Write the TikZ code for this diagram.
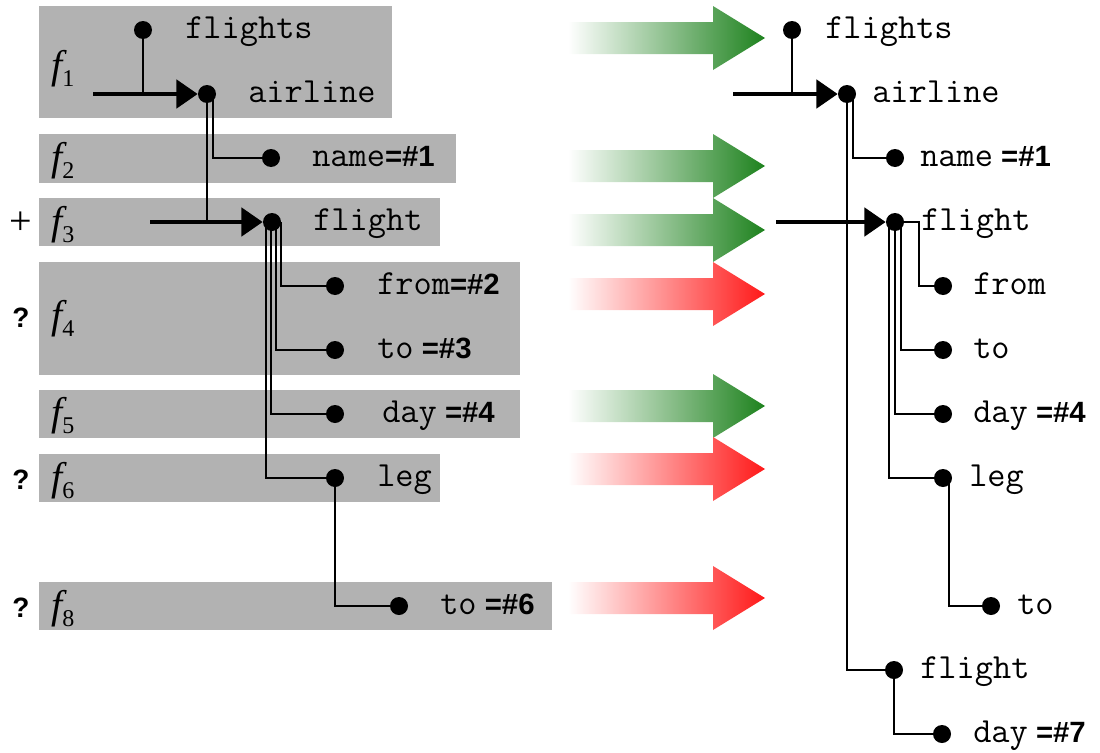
\documentclass[tikz,border=0pt]{standalone}
\usepackage{fontspec}
\setmainfont{Liberation Serif}
\newfontfamily\bsans{Liberation Sans}
\usetikzlibrary{arrows.meta,calc}
\definecolor{bandgray}{RGB}{178,178,178}
\definecolor{gtip}{RGB}{30,130,30}
\definecolor{gmid}{RGB}{178,200,178}
\definecolor{rtip}{RGB}{255,25,25}
\definecolor{rmid}{RGB}{255,195,195}
\newcommand\bpart[1]{{\bsans\bfseries\fontsize{22}{22}\selectfont #1}}
\newcommand\flab[1]{{\fontsize{30}{30}\selectfont\itshape f}\raisebox{-6pt}{\fontsize{18}{18}\selectfont #1}}
\tikzset{
  band/.style={fill=bandgray, draw=none},
  dot/.style={circle, fill=black, inner sep=0pt, minimum size=13.5pt},
  lbl/.style={anchor=base west, inner sep=0pt, font=\ttfamily\fontsize{26.5}{26.5}\selectfont},
  flbl/.style={anchor=base west, inner sep=0pt},
  conn/.style={line width=1.4pt},
  bigarrow/.style={line width=3.6pt, -{Triangle[length=16pt,width=21pt]}},
  garrow/.style={left color=white, middle color=gmid, right color=gtip, draw=none},
  rarrow/.style={left color=white, middle color=rmid, right color=rtip, draw=none},
}
\newcommand\fatarrow[2]{\path[#1] (568,#2-16) -- (713,#2-16) -- (713,#2-32) -- (765,#2) -- (713,#2+32) -- (713,#2+16) -- (568,#2+16) -- cycle;}
\begin{document}
\begin{tikzpicture}[x=0.75pt,y=-0.75pt]
\useasboundingbox (0,0) rectangle (1100,753);
% bands
\fill[band] (39,6) rectangle (392,118);
\fill[band] (39,134) rectangle (456,183);
\fill[band] (39,198) rectangle (440,246);
\fill[band] (39,262) rectangle (520,375);
\fill[band] (39,390) rectangle (520,438);
\fill[band] (39,454) rectangle (440,502);
\fill[band] (39,582) rectangle (552,630);
% f labels
\node[flbl] (f1) at (51,78) {\flab{1}};
\node[flbl] (f2) at (51,170) {\flab{2}};
\node[flbl] (f3) at (51,234) {\flab{3}};
\node[flbl] (f4) at (51,328) {\flab{4}};
\node[flbl] (f5) at (51,425) {\flab{5}};
\node[flbl] (f6) at (51,490) {\flab{6}};
\node[flbl] (f8) at (51,618) {\flab{8}};
% markers
\node (mplus) at (21,223) {\fontsize{30}{30}\selectfont +};
\node (mq4) at (21,318) {\bsans\bfseries\fontsize{21}{21}\selectfont ?};
\node (mq6) at (21,480) {\bsans\bfseries\fontsize{21}{21}\selectfont ?};
\node (mq8) at (21,608) {\bsans\bfseries\fontsize{21}{21}\selectfont ?};
% gradient arrows
\fatarrow{garrow}{38}
\fatarrow{garrow}{166}
\fatarrow{garrow}{230}
\fatarrow{rarrow}{294}
\fatarrow{garrow}{406}
\fatarrow{rarrow}{469}
\fatarrow{rarrow}{598}
% ---------- left tree ----------
\node[dot] (flightsL) at (143,30) {};
\node[dot] (airL) at (207,94) {};
\node[dot] (nameL) at (271,158) {};
\node[dot] (flightL) at (272,222) {};
\node[dot] (fromL) at (335,286) {};
\node[dot] (toL) at (335,350) {};
\node[dot] (dayL) at (335,414) {};
\node[dot] (legL) at (335,478) {};
\node[dot] (to6L) at (399,606) {};
\coordinate (sA) at (93,94);
\coordinate (sF) at (150,222);
\node[lbl] (tflightsL) at (185,38) {flights};
\node[lbl] (tairL) at (248,102) {airline};
\node[lbl] (tnameL) at (312,166) {name\bpart{=\#1}};
\node[lbl] (tflightL) at (313,230) {flight};
\node[lbl] (tfromL) at (377,294) {from\bpart{=\#2}};
\node[lbl] (ttoL) at (377,358) {to\bpart{ =\#3}};
\node[lbl] (tdayL) at (382,422) {day\bpart{ =\#4}};
\node[lbl] (tlegL) at (377,486) {leg};
\node[lbl] (tto6L) at (440,614) {to\bpart{ =\#6}};
\draw[conn] (flightsL.center) -- (flightsL.center |- airL.center);
\draw[bigarrow] (sA) -- (airL.west);
\draw[conn] ($(airL.center)+(6,0)$) |- (nameL);
\draw[conn] (airL.center) -- (airL.center |- flightL.center);
\draw[bigarrow] (sF) -- (flightL.west);
\draw[conn] ($(flightL.center)+(9,0)$) |- (fromL);
\draw[conn] ($(flightL.center)+(4,0)$) |- (toL);
\draw[conn] ($(flightL.center)+(-1,0)$) |- (dayL);
\draw[conn] ($(flightL.center)+(-6,0)$) |- (legL);
\draw[conn] (legL.center) |- (to6L);
% ---------- right tree ----------
\node[dot] (flightsR) at (792,30) {};
\node[dot] (airR) at (847,94) {};
\node[dot] (nameR) at (895,158) {};
\node[dot] (flightR) at (895,222) {};
\node[dot] (fromR) at (943,286) {};
\node[dot] (toR) at (943,350) {};
\node[dot] (dayR) at (943,414) {};
\node[dot] (legR) at (943,478) {};
\node[dot] (to2R) at (991,606) {};
\node[dot] (flight2R) at (894,670) {};
\node[dot] (day7R) at (942,734) {};
\coordinate (sAR) at (733,94);
\coordinate (sFR) at (776,222);
\node[lbl] (tflightsR) at (825,38) {flights};
\node[lbl] (tairR) at (872,102) {airline};
\node[lbl] (tnameR) at (920,166) {name\bpart{ =\#1}};
\node[lbl] (tflightR) at (921,230) {flight};
\node[lbl] (tfromR) at (973,294) {from};
\node[lbl] (ttoR) at (973,358) {to};
\node[lbl] (tdayR) at (973,422) {day\bpart{ =\#4}};
\node[lbl] (tlegR) at (969,486) {leg};
\node[lbl] (tto2R) at (1017,614) {to};
\node[lbl] (tflight2R) at (920,678) {flight};
\node[lbl] (tday7R) at (973,742) {day\bpart{ =\#7}};
\draw[conn] (flightsR.center) -- (flightsR.center |- airR.center);
\draw[bigarrow] (sAR) -- (airR.west);
\draw[conn] ($(airR.center)+(6,0)$) |- (nameR);
\draw[conn] (airR.center) |- (flight2R);
\draw[bigarrow] (sFR) -- (flightR.west);
\draw[conn] (flightR.center) -- ++(24,0) |- (fromR);
\draw[conn] ($(flightR.center)+(6,0)$) |- (toR);
\draw[conn] (flightR.center) |- (dayR);
\draw[conn] ($(flightR.center)+(-6,0)$) |- (legR);
\draw[conn] ($(legR.center)+(6,0)$) |- (to2R);
\draw[conn] (flight2R.center) |- (day7R);
\end{tikzpicture}
\end{document}
